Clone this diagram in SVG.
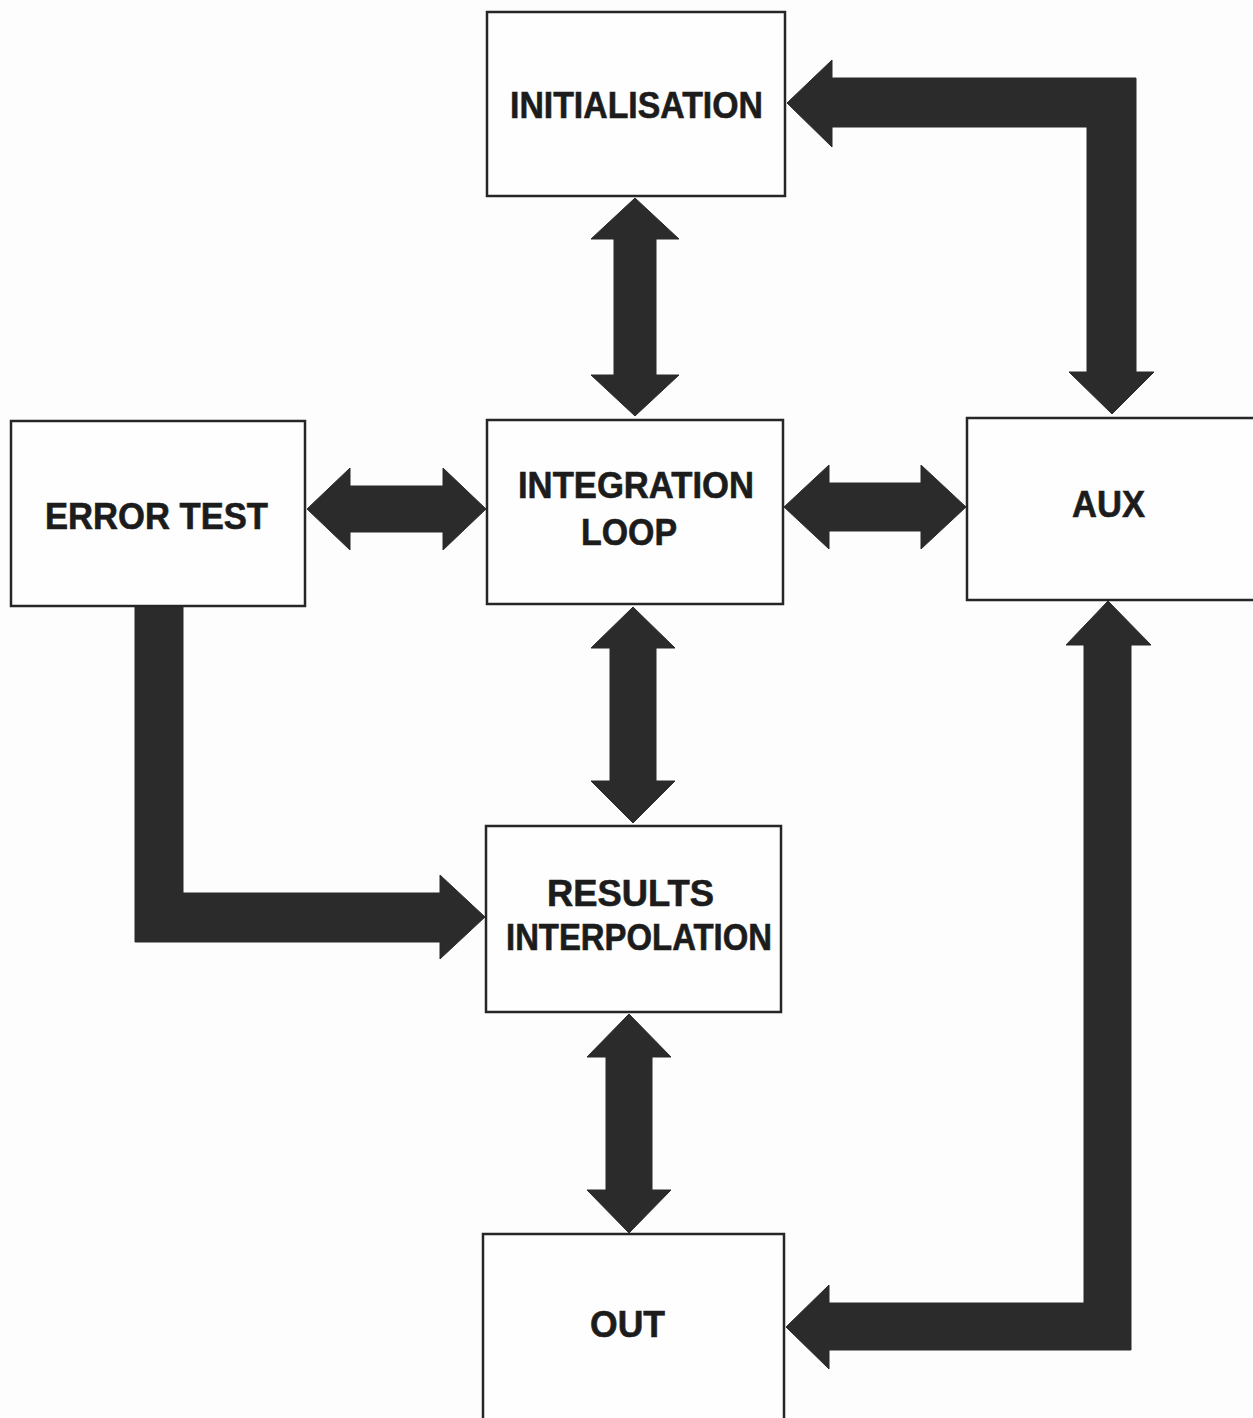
<svg xmlns="http://www.w3.org/2000/svg" width="1253" height="1418" viewBox="0 0 1253 1418">
  <style>
    .box { fill: #fefefe; stroke: #262626; stroke-width: 2.5; }
    .lbl { font-family: "Liberation Sans", Arial, sans-serif; font-weight: bold; font-size: 36px; fill: #1c1c1c; stroke: #1c1c1c; stroke-width: 0.6; }
    .flow { fill: #2b2b2b; stroke: #2b2b2b; stroke-width: 1; stroke-linejoin: miter; }
  </style>
  <rect x="0" y="0" width="1253" height="1418" fill="#fdfdfd"/>

  <!-- block arrows -->
  <g id="connectors">
    <!-- INITIALISATION <-> INTEGRATION LOOP -->
    <path class="flow" d="M635,198 L679,239 L656,239 L656,375 L679,375 L635,416 L591,375 L614,375 L614,239 L591,239 Z"/>
    <!-- ERROR TEST <-> INTEGRATION LOOP -->
    <path class="flow" d="M307,509 L350,468 L350,486 L443,486 L443,468 L486,509 L443,550 L443,532 L350,532 L350,550 Z"/>
    <!-- INTEGRATION LOOP <-> AUX -->
    <path class="flow" d="M784,507 L829,465 L829,483 L921,483 L921,465 L966,507 L921,549 L921,531 L829,531 L829,549 Z"/>
    <!-- INTEGRATION LOOP <-> RESULTS INTERPOLATION -->
    <path class="flow" d="M633,607 L675,648 L656,648 L656,781 L675,781 L633,823 L591,781 L610,781 L610,648 L591,648 Z"/>
    <!-- RESULTS INTERPOLATION <-> OUT -->
    <path class="flow" d="M629,1014 L671,1057 L652,1057 L652,1190 L671,1190 L629,1233 L587,1190 L606,1190 L606,1057 L587,1057 Z"/>
    <!-- ERROR TEST -> RESULTS INTERPOLATION -->
    <path class="flow" d="M135,606 L183,606 L183,893 L440,893 L440,875 L485,917 L440,959 L440,942 L135,942 Z"/>
    <!-- AUX -> INITIALISATION and INITIALISATION -> AUX -->
    <path class="flow" d="M787,103 L832,60 L832,78 L1136,78 L1136,372 L1154,372 L1112,414 L1069,372 L1087,372 L1087,127 L832,127 L832,147 Z"/>
    <!-- AUX <-> OUT -->
    <path class="flow" d="M1108,601 L1151,645 L1131,645 L1131,1350 L829,1350 L829,1369 L786,1327 L829,1285 L829,1303 L1084,1303 L1084,645 L1066,645 Z"/>
  </g>

  <g id="node-initialisation">
    <rect class="box" x="487" y="12" width="298" height="184"/>
    <text class="lbl" x="510" y="118" textLength="253" lengthAdjust="spacingAndGlyphs">INITIALISATION</text>
  </g>

  <g id="node-integration-loop">
    <rect class="box" x="487" y="420" width="296" height="184"/>
    <text class="lbl" x="518" y="498" textLength="236" lengthAdjust="spacingAndGlyphs">INTEGRATION</text>
    <text class="lbl" x="581" y="545" textLength="96" lengthAdjust="spacingAndGlyphs">LOOP</text>
  </g>

  <g id="node-error-test">
    <rect class="box" x="11" y="421" width="294" height="185"/>
    <text class="lbl" x="45" y="529" textLength="223" lengthAdjust="spacingAndGlyphs">ERROR TEST</text>
  </g>

  <g id="node-aux">
    <rect class="box" x="967" y="418" width="300" height="182"/>
    <text class="lbl" x="1072" y="517" textLength="73" lengthAdjust="spacingAndGlyphs">AUX</text>
  </g>

  <g id="node-results-interpolation">
    <rect class="box" x="486" y="826" width="295" height="186"/>
    <text class="lbl" x="547" y="906" textLength="167" lengthAdjust="spacingAndGlyphs">RESULTS</text>
    <text class="lbl" x="506" y="950" textLength="266" lengthAdjust="spacingAndGlyphs">INTERPOLATION</text>
  </g>

  <g id="node-out">
    <rect class="box" x="483" y="1234" width="301" height="200"/>
    <text class="lbl" x="590" y="1337" textLength="75" lengthAdjust="spacingAndGlyphs">OUT</text>
  </g>
</svg>
